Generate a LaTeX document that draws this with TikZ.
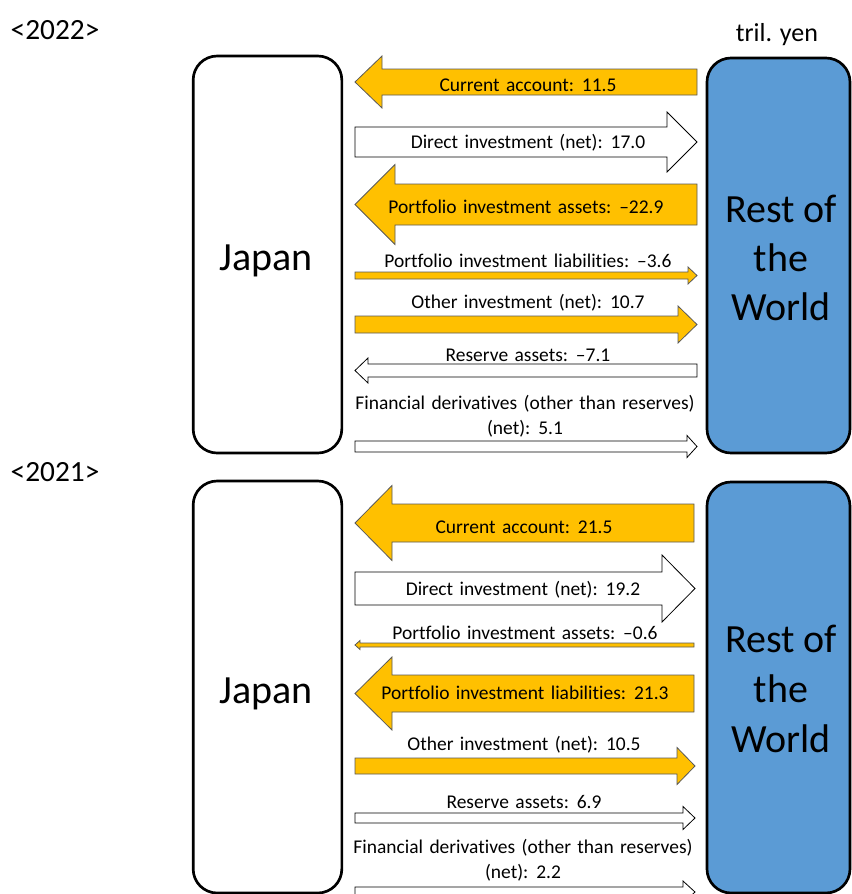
\documentclass[tikz,border=0pt]{standalone}
\usepackage{fontspec}
\setmainfont{Carlito}[Ligatures={TeX,NoCommon}]
\usetikzlibrary{positioning}

\definecolor{flowyellow}{HTML}{FFC000}
\definecolor{worldblue}{HTML}{5B9BD5}

% label font, with a little wider word spacing
\newcommand{\lblfont}{\fontsize{14.6}{18.75}\selectfont\spaceskip=0.33em plus 0.1em\relax}

% block arrow: style, tip x, tail x, mid y, half body, half head, head length (signed)
\newcommand{\flow}[7]{%
  \draw [#1] (#2,#4) -- ({#2+#7},{#4-#6}) -- ({#2+#7},{#4-#5}) -- (#3,{#4-#5})
    -- (#3,{#4+#5}) -- ({#2+#7},{#4+#5}) -- ({#2+#7},{#4+#6}) -- cycle;}

\begin{document}
\begin{tikzpicture} [x=0.75pt, y=-0.75pt,
  country/.style = {draw, line width=2pt, rounded corners=18pt, inner sep=0pt,
    minimum width=111.5pt},
  bigtxt/.style = {inner sep=0pt, font=\fontsize{30}{36.5}\selectfont, align=center},
  yellowflow/.style = {fill=flowyellow, draw=black!65, line width=0.6pt, line join=miter},
  whiteflow/.style = {fill=white, draw=black, line width=0.6pt, line join=miter},
  lbl/.style = {inner sep=0pt, font=\lblfont, align=center},
  yearlbl/.style = {inner sep=0pt, font=\fontsize{22}{26}\selectfont}]

\useasboundingbox (0,0) rectangle (852,894);
\clip (0,0) rectangle (852,894);

% ---- 2022 ----
\node (y22) [yearlbl] at (55,30) {<2022>};
\node (unit) [yearlbl, font=\fontsize{19.5}{24}\selectfont] at (777,35) {tril. yen};

\node (japan22) [country, fill=white, minimum height=297.75pt] at (267.5,254.5) {};
\node (world22) [country, fill=worldblue, minimum width=107.25pt, minimum height=296.25pt]
  at (778.5,255.5) {};
\node (jtxt22) [bigtxt, anchor=base] at (266,270) {Japan};
\node (wtxt22) [bigtxt] at (781,258) {Rest of\\the\\World};

\flow{yellowflow}{355}{697}{82}{13}{26}{27}
\flow{whiteflow}{697}{355}{142}{15}{30}{-30}
\flow{yellowflow}{355}{697}{204.5}{20.5}{40}{40}
\flow{yellowflow}{697}{355}{275.5}{3.5}{8.5}{-9}
\flow{yellowflow}{697}{355}{324.5}{8.5}{18.5}{-19}
\flow{whiteflow}{355}{697}{370.5}{6.5}{12.5}{13}
\flow{whiteflow}{697}{355}{446.5}{5.5}{11}{-10}

\node (ca22)  [lbl] at (528,85)  {Current account: 11.5};
\node (di22)  [lbl] at (528,143) {Direct investment (net): 17.0};
\node (pia22) [lbl] at (526,207) {Portfolio investment assets: --22.9};
\node (pil22) [lbl] at (528,261) {Portfolio investment liabilities: --3.6};
\node (oi22)  [lbl] at (528,303) {Other investment (net): 10.7};
\node (ra22)  [lbl] at (528,355) {Reserve assets: --7.1};
\node (fd22)  [lbl] at (525,416) {Financial derivatives (other than reserves)\\(net): 5.1};

% ---- 2021 ----
\node (y21) [yearlbl] at (55,472) {<2021>};

\node (japan21) [country, fill=white, minimum height=309pt] at (267.5,687) {};
\node (world21) [country, fill=worldblue, minimum width=107.25pt, minimum height=308.25pt]
  at (778.5,687.5) {};
\node (jtxt21) [bigtxt, anchor=base] at (266,703) {Japan};
\node (wtxt21) [bigtxt, font=\fontsize{30}{37.5}\selectfont] at (781,689) {Rest of\\the\\World};

\flow{yellowflow}{355}{694}{523}{19}{37.5}{37}
\flow{whiteflow}{695}{355}{588.5}{16.5}{33.5}{-33}
\flow{yellowflow}{355}{694}{645}{2}{4.5}{5}
\flow{yellowflow}{355}{694}{693.5}{18.5}{36.5}{37}
\flow{yellowflow}{695}{355}{766}{8}{18.5}{-18}
\flow{whiteflow}{695}{355}{818}{5}{11.5}{-12}
\flow{whiteflow}{695}{355}{892}{5}{11}{-12}

\node (ca21)  [lbl] at (524,527) {Current account: 21.5};
\node (di21)  [lbl] at (523,590) {Direct investment (net): 19.2};
\node (pia21) [lbl] at (525,633) {Portfolio investment assets: --0.6};
\node (pil21) [lbl] at (525,693) {Portfolio investment liabilities: 21.3};
\node (oi21)  [lbl] at (524,745) {Other investment (net): 10.5};
\node (ra21)  [lbl] at (524,802) {Reserve assets: 6.9};
\node (fd21)  [lbl] at (523,860) {Financial derivatives (other than reserves)\\(net): 2.2};
\end{tikzpicture}
\end{document}
